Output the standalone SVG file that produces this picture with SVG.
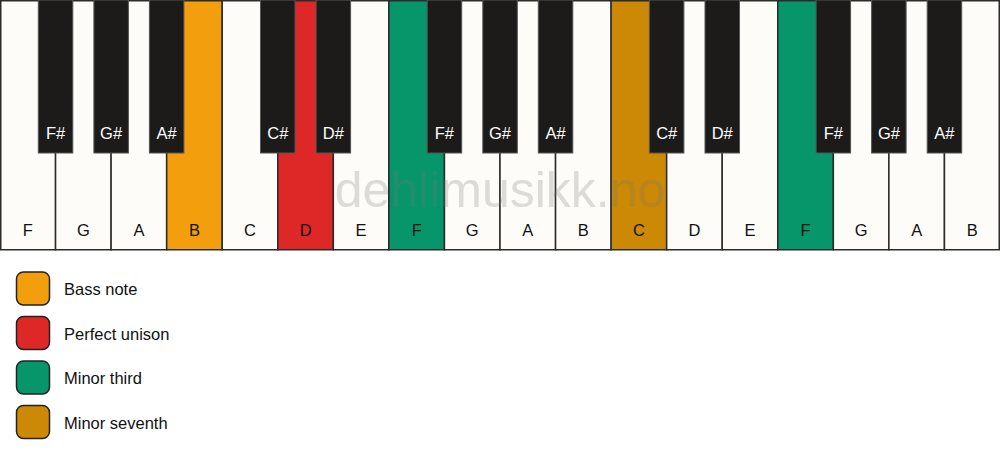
<svg xmlns="http://www.w3.org/2000/svg" width="1000" height="461" viewBox="0 0 1000 461">
<style>
.w{fill:#fdfcf9;stroke:#2b2b2b;stroke-width:1.5}
.b{fill:#1c1b1a;stroke:#555;stroke-width:1}
.lw{font-family:"Liberation Sans",Arial,sans-serif;font-size:16.5px;fill:#111;text-anchor:middle}
.lb{font-family:"Liberation Sans",Arial,sans-serif;font-size:16.5px;fill:#fff;text-anchor:middle}
.lg{font-family:"Liberation Sans",Arial,sans-serif;font-size:16.5px;fill:#111}
.sw{stroke:#222;stroke-width:1.5}
.or{fill:#f39e0c}.rd{fill:#de2828}.gr{fill:#07966a}.gd{fill:#cb8905}
</style>
<rect x="0" y="0" width="1000" height="461" fill="#ffffff"/>
<g id="white-keys">
<g id="w0"><rect class="w" x="0.75" y="0.75" width="54.8" height="249"/><text class="lw" x="27.8" y="236">F</text></g>
<g id="w1"><rect class="w" x="55.56" y="0.75" width="55.56" height="249"/><text class="lw" x="83.3" y="236">G</text></g>
<g id="w2"><rect class="w" x="111.11" y="0.75" width="55.56" height="249"/><text class="lw" x="138.9" y="236">A</text></g>
<g id="w3"><rect class="w or" x="166.67" y="0.75" width="55.56" height="249"/><text class="lw" x="194.4" y="236">B</text></g>
<g id="w4"><rect class="w" x="222.22" y="0.75" width="55.56" height="249"/><text class="lw" x="250" y="236">C</text></g>
<g id="w5"><rect class="w rd" x="277.78" y="0.75" width="55.56" height="249"/><text class="lw" x="305.6" y="236">D</text></g>
<g id="w6"><rect class="w" x="333.33" y="0.75" width="55.56" height="249"/><text class="lw" x="361.1" y="236">E</text></g>
<g id="w7"><rect class="w gr" x="388.89" y="0.75" width="55.56" height="249"/><text class="lw" x="416.7" y="236">F</text></g>
<g id="w8"><rect class="w" x="444.44" y="0.75" width="55.56" height="249"/><text class="lw" x="472.2" y="236">G</text></g>
<g id="w9"><rect class="w" x="500" y="0.75" width="55.56" height="249"/><text class="lw" x="527.8" y="236">A</text></g>
<g id="w10"><rect class="w" x="555.56" y="0.75" width="55.56" height="249"/><text class="lw" x="583.3" y="236">B</text></g>
<g id="w11"><rect class="w gd" x="611.11" y="0.75" width="55.56" height="249"/><text class="lw" x="638.9" y="236">C</text></g>
<g id="w12"><rect class="w" x="666.67" y="0.75" width="55.56" height="249"/><text class="lw" x="694.4" y="236">D</text></g>
<g id="w13"><rect class="w" x="722.22" y="0.75" width="55.56" height="249"/><text class="lw" x="750" y="236">E</text></g>
<g id="w14"><rect class="w gr" x="777.78" y="0.75" width="55.56" height="249"/><text class="lw" x="805.6" y="236">F</text></g>
<g id="w15"><rect class="w" x="833.33" y="0.75" width="55.56" height="249"/><text class="lw" x="861.1" y="236">G</text></g>
<g id="w16"><rect class="w" x="888.89" y="0.75" width="55.56" height="249"/><text class="lw" x="916.7" y="236">A</text></g>
<g id="w17"><rect class="w" x="944.44" y="0.75" width="54.8" height="249"/><text class="lw" x="972.2" y="236">B</text></g>
</g>
<g id="black-keys">
<g id="b0"><rect class="b" x="38.3" y="0" width="34.5" height="153"/><text class="lb" x="55.6" y="139">F#</text></g>
<g id="b1"><rect class="b" x="93.9" y="0" width="34.5" height="153"/><text class="lb" x="111.1" y="139">G#</text></g>
<g id="b2"><rect class="b" x="149.4" y="0" width="34.5" height="153"/><text class="lb" x="166.7" y="139">A#</text></g>
<g id="b3"><rect class="b" x="260.5" y="0" width="34.5" height="153"/><text class="lb" x="277.8" y="139">C#</text></g>
<g id="b4"><rect class="b" x="316.1" y="0" width="34.5" height="153"/><text class="lb" x="333.3" y="139">D#</text></g>
<g id="b5"><rect class="b" x="427.2" y="0" width="34.5" height="153"/><text class="lb" x="444.4" y="139">F#</text></g>
<g id="b6"><rect class="b" x="482.8" y="0" width="34.5" height="153"/><text class="lb" x="500" y="139">G#</text></g>
<g id="b7"><rect class="b" x="538.3" y="0" width="34.5" height="153"/><text class="lb" x="555.6" y="139">A#</text></g>
<g id="b8"><rect class="b" x="649.4" y="0" width="34.5" height="153"/><text class="lb" x="666.7" y="139">C#</text></g>
<g id="b9"><rect class="b" x="705" y="0" width="34.5" height="153"/><text class="lb" x="722.2" y="139">D#</text></g>
<g id="b10"><rect class="b" x="816.1" y="0" width="34.5" height="153"/><text class="lb" x="833.3" y="139">F#</text></g>
<g id="b11"><rect class="b" x="871.6" y="0" width="34.5" height="153"/><text class="lb" x="888.9" y="139">G#</text></g>
<g id="b12"><rect class="b" x="927.2" y="0" width="34.5" height="153"/><text class="lb" x="944.4" y="139">A#</text></g>
</g>
<text id="watermark" x="500" y="207" font-family="'Liberation Sans',Arial,sans-serif" font-size="50" fill="#777" fill-opacity="0.25" text-anchor="middle">dehlimusikk.no</text>
<g id="legend">
<g id="leg-bass"><rect class="sw or" x="16.5" y="272" width="33" height="33" rx="7"/><text class="lg" x="64" y="295">Bass note</text></g>
<g id="leg-unison"><rect class="sw rd" x="16.5" y="316.5" width="33" height="33" rx="7"/><text class="lg" x="64" y="339.5">Perfect unison</text></g>
<g id="leg-third"><rect class="sw gr" x="16.5" y="361" width="33" height="33" rx="7"/><text class="lg" x="64" y="384">Minor third</text></g>
<g id="leg-seventh"><rect class="sw gd" x="16.5" y="405.5" width="33" height="33" rx="7"/><text class="lg" x="64" y="428.5">Minor seventh</text></g>
</g>
</svg>
